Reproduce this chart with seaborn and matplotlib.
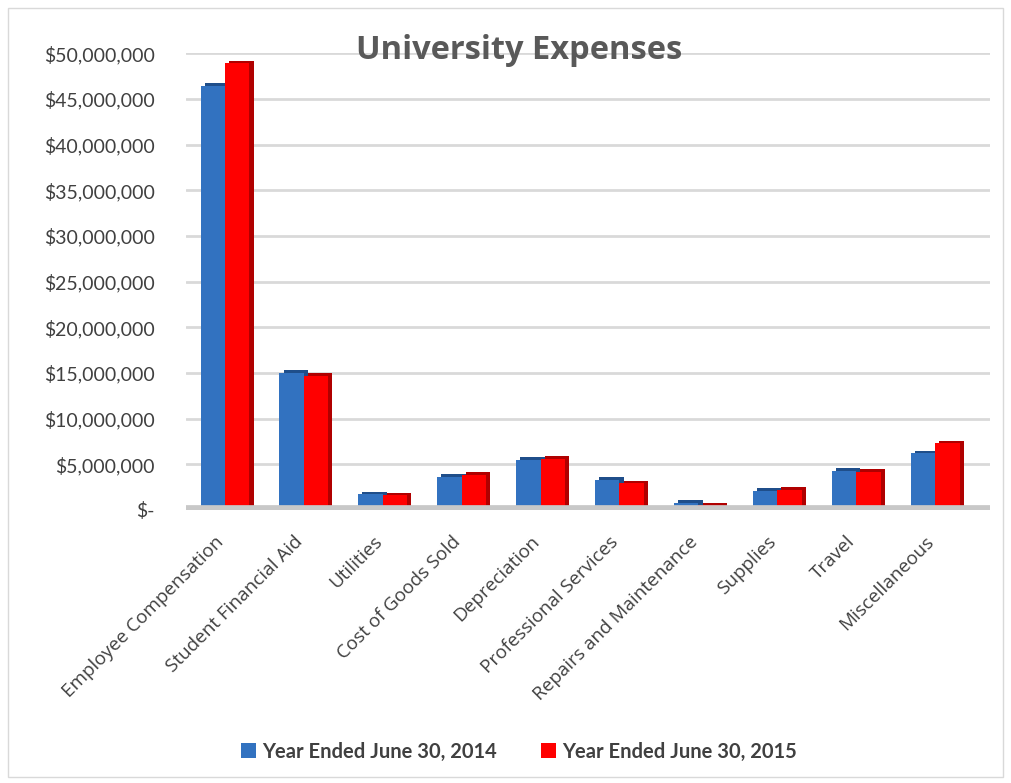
import matplotlib
matplotlib.use("Agg")
import matplotlib.pyplot as plt
import matplotlib.patheffects as pe
import matplotlib.transforms as mtrans
import seaborn as sns
import pandas as pd
from matplotlib.ticker import FuncFormatter
from matplotlib.patches import Rectangle

categories = ["Employee Compensation", "Student Financial Aid", "Utilities",
              "Cost of Goods Sold", "Depreciation", "Professional Services",
              "Repairs and Maintenance", "Supplies", "Travel", "Miscellaneous"]
fy2014 = [46.4e6, 15.0e6, 1.7e6, 3.6e6, 5.5e6, 3.3e6, 0.8e6, 2.1e6, 4.3e6, 6.2e6]
fy2015 = [48.9e6, 14.7e6, 1.6e6, 3.8e6, 5.6e6, 2.9e6, 0.5e6, 2.2e6, 4.2e6, 7.3e6]
series = ["Year Ended June 30, 2014", "Year Ended June 30, 2015"]
colors = ["#3272C0", "#FF0000"]
side_colors = ["#1F4E8A", "#B00000"]
title = "University Expenses"

df = pd.DataFrame({
    "Category": categories * 2,
    "Value": fy2014 + fy2015,
    "Series": [series[0]] * len(categories) + [series[1]] * len(categories),
})

sns.set_theme(style="white")
plt.rcParams["font.family"] = ["Lato", "DejaVu Sans"]

fig = plt.figure(figsize=(10.11, 7.83), dpi=100)
ax = fig.add_axes([0.1835, 0.3487, 0.796, 0.5833])

sns.barplot(data=df, x="Category", y="Value", hue="Series", palette=colors,
            width=0.62, ax=ax, saturation=1, legend=True, edgecolor="none")

for cont, sc in zip(ax.containers, side_colors):
    for bar in cont:
        bar.set_path_effects([pe.SimplePatchShadow(offset=(3, 2), shadow_rgbFace=sc, alpha=1),
                              pe.Normal()])

ax.set_ylim(0, 50e6)
ax.set_xlim(-0.5, 9.7)
ax.set_yticks([i * 5e6 for i in range(11)])
ax.yaxis.set_major_formatter(FuncFormatter(lambda v, p: "$-" if v == 0 else f"${v:,.0f}"))
ax.grid(axis="y", color="#d9d9d9", linewidth=2)
ax.set_axisbelow(True)
for s in ax.spines.values():
    s.set_visible(False)
ax.axhline(0, color="#c8c8c8", linewidth=7, zorder=1)
ax.set_xlabel("")
ax.set_ylabel("")
ax.tick_params(axis="y", labelsize=14, labelcolor="#404040", pad=22, length=0)
ax.tick_params(axis="x", length=0, pad=12)
ax.set_xticks(range(len(categories)))
ax.set_xticklabels(categories, rotation=45, ha="right", va="top", rotation_mode="anchor",
                   fontsize=13.6, color="#404040", family=["Open Sans", "DejaVu Sans"])
offset = mtrans.ScaledTranslation(-10 / 100, -6 / 100, fig.dpi_scale_trans)
for t in ax.get_xticklabels():
    t.set_transform(t.get_transform() + offset)

fig.text(0.513, 0.935, title, fontsize=23.5, fontweight="bold", color="#595959",
         ha="center", va="center", family=["Open Sans", "DejaVu Sans"])

handles, labels = ax.get_legend_handles_labels()
ax.legend_.remove()
fig.legend(handles, labels, loc="center", bbox_to_anchor=(0.513, 0.04), ncol=2,
           frameon=False, prop={"size": 14.5, "weight": "bold"},
           handlelength=0.75, handleheight=0.75,
           columnspacing=2.2, handletextpad=0.3, labelcolor="#404040")

fig.patches.append(Rectangle((0.008, 0.008), 0.984, 0.982, transform=fig.transFigure,
                             fill=False, edgecolor="#d9d9d9", linewidth=1))

fig.savefig("out.png", dpi=100, facecolor="white")
